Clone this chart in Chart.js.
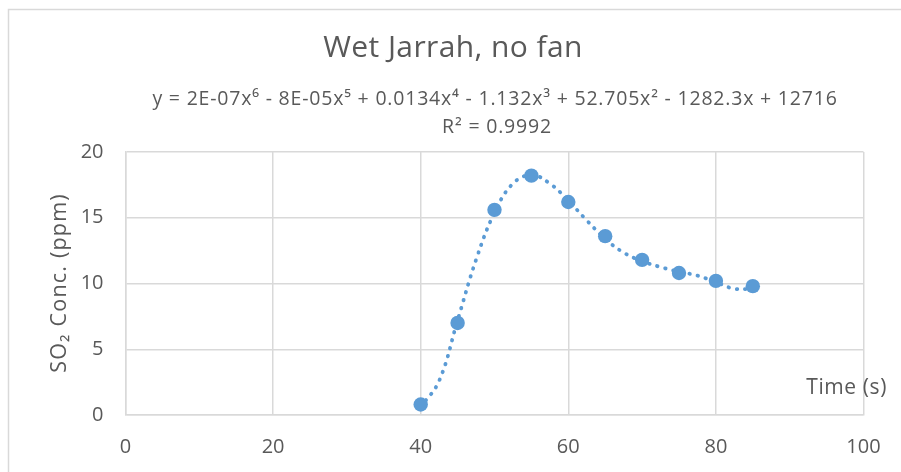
<!DOCTYPE html>
<html>
<head>
<meta charset="utf-8">
<script src="https://cdn.jsdelivr.net/npm/chart.js@4/dist/chart.umd.min.js"></script>
<style>
  html, body { margin: 0; padding: 0; background: #ffffff; }
  #wrap { width: 901px; height: 472px; position: relative; }
</style>
</head>
<body>
<div id="wrap"><canvas id="c" width="901" height="472"></canvas></div>
<script>
// Measured SO2 concentration over time
const times = [40, 45, 50, 55, 60, 65, 70, 75, 80, 85];
const so2Values = [0.8, 7.0, 15.6, 18.2, 16.2, 13.6, 11.8, 10.8, 10.2, 9.8];

// Polynomial trendline (order 6), sampled along its course
const trendTimes = [40, 42.5, 45, 47.5, 50, 52.5, 55, 57.5, 60, 62.5, 65, 67.5, 70, 72.5, 75, 77.5, 80, 82.5, 85];
const trendValues = [0.6, 2.6, 7.2, 11.8, 15.4, 17.6, 18.25, 17.6, 16.3, 14.8, 13.4, 12.35, 11.7, 11.25, 10.9, 10.6, 10.1, 9.6, 9.6];

// Axis tick labels
const xTicks = [0, 20, 40, 60, 80, 100];
const yTicks = [0, 5, 10, 15, 20];

// Text
const titleText = 'Wet Jarrah, no fan';
const equationText = 'y = 2E-07x\u2076 - 8E-05x\u2075 + 0.0134x\u2074 - 1.132x\u00B3 + 52.705x\u00B2 - 1282.3x + 12716';
const r2Text = 'R\u00B2 = 0.9992';
const xTitle = 'Time (s)';
const yTitle = 'SO\u2082 Conc. (ppm)';

const FONT = '"Open Sans", "DejaVu Sans", sans-serif';
const TEXT = '#595959';
const GRID = '#d9d9d9';
const BLUE = '#5b9bd5';

function drawText(ctx, str, x, y, size, spacing, align) {
  ctx.font = size + 'px ' + FONT;
  ctx.letterSpacing = spacing + 'px';
  ctx.textAlign = align;
  ctx.fillText(str, x, y);
}

const textPlugin = {
  id: 'chartText',
  beforeDraw(chart) {
    const ctx = chart.ctx;
    ctx.save();
    ctx.fillStyle = '#ffffff';
    ctx.fillRect(0, 0, chart.width, chart.height);
    ctx.strokeStyle = GRID;
    ctx.lineWidth = 1.5;
    ctx.strokeRect(8.5, 9.5, 1200, 1200);
    ctx.restore();
  },
  afterDraw(chart) {
    const ctx = chart.ctx;
    ctx.save();
    ctx.fillStyle = TEXT;
    ctx.textBaseline = 'middle';
    drawText(ctx, titleText, 453, 48, 30, 0.4, 'center');
    drawText(ctx, equationText, 495, 99, 19.5, 0.8, 'center');
    drawText(ctx, r2Text, 497, 127, 19.5, 0.8, 'center');
    drawText(ctx, xTitle, 887, 388, 21, 0.6, 'right');
    ctx.translate(60, 283);
    ctx.rotate(-Math.PI / 2);
    drawText(ctx, yTitle, 0, 0, 21.5, 1.2, 'center');
    ctx.restore();
  }
};

new Chart(document.getElementById('c'), {
  type: 'scatter',
  data: {
    datasets: [
      {
        label: 'SO2',
        data: times.map((t, i) => ({ x: t, y: so2Values[i] })),
        backgroundColor: BLUE,
        borderColor: BLUE,
        pointRadius: 7.2,
        pointHoverRadius: 7.2,
        pointBorderWidth: 0,
        showLine: false,
        order: 0
      },
      {
        label: 'Trend',
        data: trendTimes.map((t, i) => ({ x: t, y: trendValues[i] })),
        showLine: true,
        borderColor: BLUE,
        borderWidth: 3.8,
        borderDash: [0.5, 7.8],
        borderCapStyle: 'round',
        tension: 0.4,
        pointRadius: 0,
        fill: false,
        order: 1
      }
    ]
  },
  plugins: [textPlugin],
  options: {
    responsive: false,
    animation: false,
    events: [],
    layout: { padding: { top: 152, right: 37.5, left: 0, bottom: 0 } },
    plugins: {
      legend: { display: false },
      title: { display: false },
      tooltip: { enabled: false }
    },
    scales: {
      x: {
        type: 'linear',
        min: 0,
        max: 100,
        afterBuildTicks: s => { s.ticks = xTicks.map(v => ({ value: v })); },
        afterFit: s => { s.height = 57; },
        grid: { color: GRID, lineWidth: 1.5, drawTicks: false },
        border: { color: GRID, width: 1.5 },
        ticks: { color: TEXT, font: { family: FONT, size: 20 }, padding: 20, maxRotation: 0 }
      },
      y: {
        type: 'linear',
        min: 0,
        max: 20,
        afterBuildTicks: s => { s.ticks = yTicks.map(v => ({ value: v })); },
        afterFit: s => { s.width = 125.5; },
        grid: { color: GRID, lineWidth: 1.5, drawTicks: false },
        border: { color: GRID, width: 1.5 },
        ticks: { color: TEXT, font: { family: FONT, size: 20 }, padding: 22 }
      }
    }
  }
});
</script>
</body>
</html>
